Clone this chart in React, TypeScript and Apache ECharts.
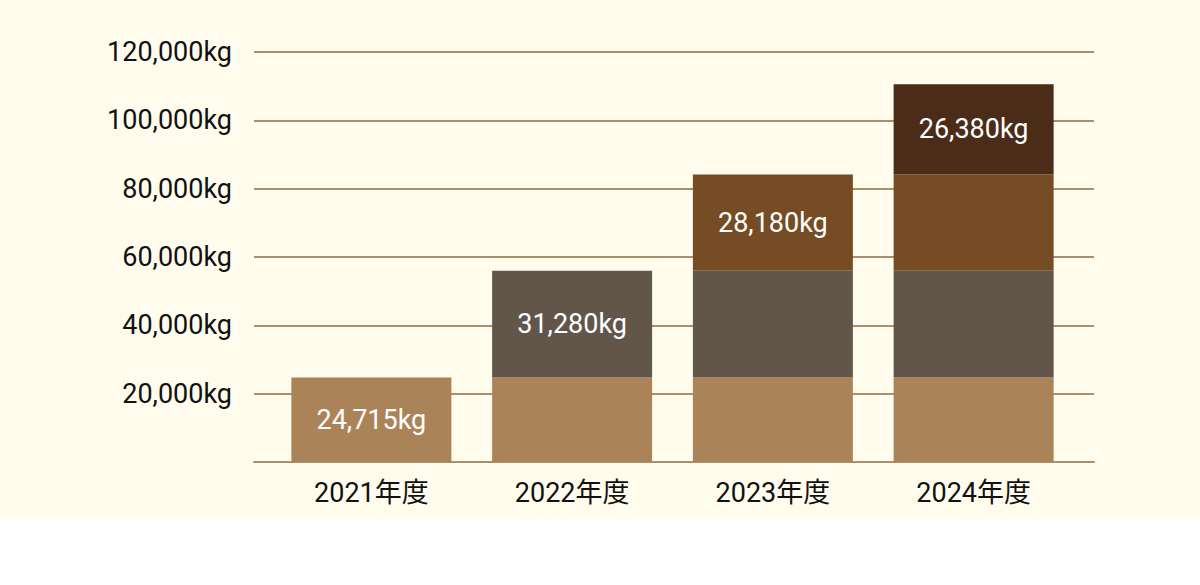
import React, { useEffect, useRef } from "react";
import * as echarts from "echarts";

const categories = ["2021年度", "2022年度", "2023年度", "2024年度"];
const seriesA = [24715, 24715, 24715, 24715];
const seriesB = [null, 31280, 31280, 31280];
const seriesC = [null, null, 28180, 28180];
const seriesD = [null, null, null, 26380];
// index of the bar whose top segment carries the label, per series
const labelAt = [0, 1, 2, 3];
const colors = ["#AB8359", "#62564B", "#764C24", "#4A2C18"];
const yMin = 0;
const yMax = 120000;
const yStep = 20000;

const FONT = "Roboto, 'Noto Sans CJK JP', sans-serif";

export default function App() {
  const ref = useRef<HTMLDivElement>(null);
  useEffect(() => {
    if (!ref.current) return;
    const chart = echarts.init(ref.current, null, { renderer: "svg" });
    const seriesData = [seriesA, seriesB, seriesC, seriesD];
    const fmt = (v: number) => v.toLocaleString("en-US") + "kg";
    chart.setOption({
      animation: false,
      backgroundColor: "#FFFCEE",
      grid: [
        { left: 254, right: 106, top: 52, bottom: 58 },
        { left: 271, right: 126, top: 52, bottom: 58 },
      ],
      xAxis: [
        {
          type: "category",
          gridIndex: 0,
          data: categories,
          axisLine: { show: true, lineStyle: { color: "#AE8E69", width: 2 } },
          axisTick: { show: false },
          axisLabel: { show: false },
          splitLine: { show: false },
        },
        {
          type: "category",
          gridIndex: 1,
          data: categories,
          axisLine: { show: false },
          axisTick: { show: false },
          axisLabel: {
            color: "#111111",
            fontSize: 27,
            fontFamily: FONT,
            margin: 17,
          },
          splitLine: { show: false },
        },
      ],
      yAxis: [
        {
          type: "value",
          gridIndex: 0,
          min: yMin,
          max: yMax,
          interval: yStep,
          axisLine: { show: false },
          axisTick: { show: false },
          axisLabel: {
            color: "#111111",
            fontSize: 27,
            fontFamily: FONT,
            margin: 22,
            formatter: (v: number) => (v === 0 ? "" : fmt(v)),
          },
          splitLine: { show: true, lineStyle: { color: "#AE8E69", width: 2 } },
        },
        {
          type: "value",
          gridIndex: 1,
          min: yMin,
          max: yMax,
          interval: yStep,
          show: false,
          splitLine: { show: false },
        },
      ],
      series: seriesData.map((d, si) => ({
        type: "bar",
        xAxisIndex: 1,
        yAxisIndex: 1,
        stack: "total",
        barWidth: 160,
        itemStyle: { color: colors[si] },
        data: d.map((v, i) =>
          v == null
            ? null
            : {
                value: v,
                label: {
                  show: i === labelAt[si],
                  position: "inside",
                  color: "#FFFFFF",
                  fontSize: 27,
                  fontFamily: FONT,
                  formatter: (p: any) => fmt(p.value),
                },
              }
        ),
      })),
    });
    return () => chart.dispose();
  }, []);
  return (
    <div
      ref={ref}
      style={{ position: "absolute", left: 0, top: 0, width: 1200, height: 520 }}
    />
  );
}
